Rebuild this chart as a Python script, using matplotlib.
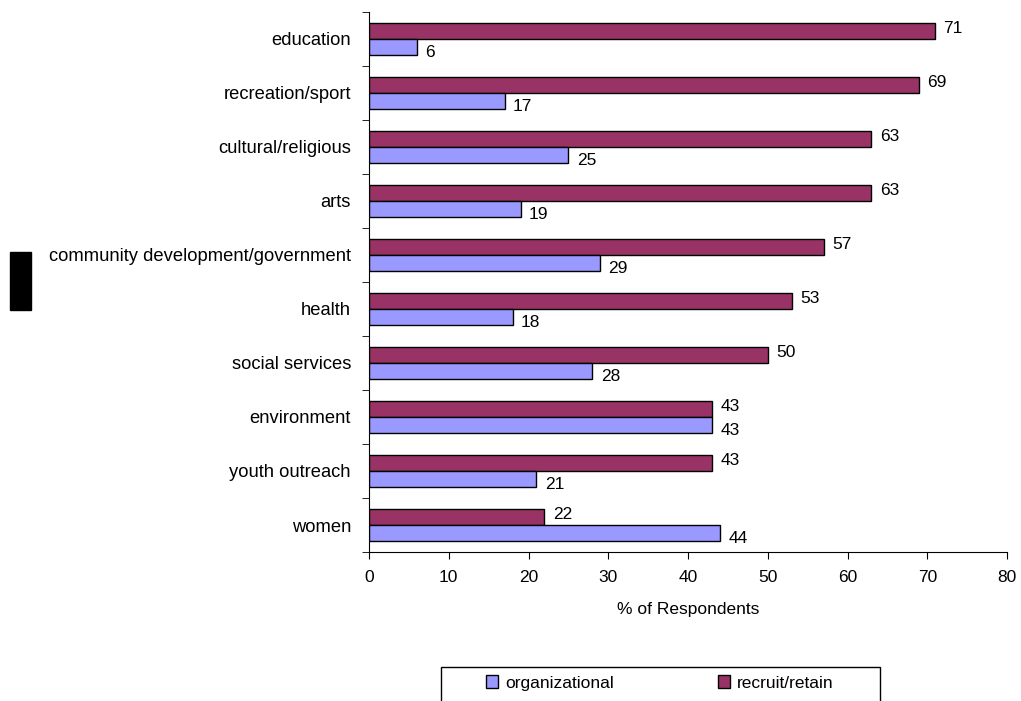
import matplotlib
matplotlib.use("Agg")
import matplotlib.pyplot as plt
import numpy as np

plt.rcParams['font.family'] = ['Liberation Sans', 'DejaVu Sans']

categories = ["education", "recreation/sport", "cultural/religious", "arts",
              "community development/government", "health", "social services",
              "environment", "youth outreach", "women"]
recruit_retain = [71, 69, 63, 63, 57, 53, 50, 43, 43, 22]
organizational = [6, 17, 25, 19, 29, 18, 28, 43, 21, 44]

c_rec = "#993366"
c_org = "#9999FF"
fs = 12.5

fig = plt.figure(figsize=(10.21, 7.01), dpi=100)
ax = fig.add_axes([369/1021, 1 - 552/701, (1007 - 369)/1021, (552 - 12)/701])

n = len(categories)
y = np.arange(n)[::-1].astype(float)
h = 0.3
ax.barh(y + h/2, recruit_retain, height=h, color=c_rec, edgecolor="black", linewidth=1.0, label="recruit/retain")
ax.barh(y - h/2, organizational, height=h, color=c_org, edgecolor="black", linewidth=1.0, label="organizational")

for yi, v in zip(y, recruit_retain):
    ax.annotate(str(v), (v, yi + h/2), xytext=(6, 2), textcoords="offset points",
                va="center", ha="left", fontsize=fs)
for yi, v in zip(y, organizational):
    ax.annotate(str(v), (v, yi - h/2), xytext=(6, -4), textcoords="offset points",
                va="center", ha="left", fontsize=fs)

ax.set_xlim(0, 80)
ax.set_ylim(-0.5, n - 0.5)
ax.set_xticks(np.arange(0, 81, 10))
ax.tick_params(axis="x", labelsize=fs, direction="out", length=5, pad=8)
ax.set_yticks(y)
ax.set_yticklabels(categories, fontsize=13.2)
ax.tick_params(axis="y", length=0, pad=13)
ax.set_yticks(np.arange(-0.5, n, 1.0), minor=True)
ax.tick_params(axis="y", which="minor", length=5, direction="out")
ax.spines["top"].set_visible(False)
ax.spines["right"].set_visible(False)
ax.set_xlabel("% of Respondents", fontsize=fs, labelpad=12)

# legend box
fig.patches.append(plt.Rectangle((441/1021, 1 - 705/701), (880 - 441)/1021, 38/701,
                                 transform=fig.transFigure, facecolor="white",
                                 edgecolor="black", linewidth=1.0, clip_on=False))
handles, labels = ax.get_legend_handles_labels()
leg = fig.legend(handles[::-1], labels[::-1], loc="center left",
                 bbox_to_anchor=(486/1021, 1 - 683/701),
                 ncol=2, frameon=False, fontsize=fs, handlelength=0.7, handleheight=0.7,
                 borderaxespad=0, borderpad=0, handletextpad=0.4, columnspacing=6.0)

fig.patches.append(plt.Rectangle((10/1021, 1 - 310/701), 21/1021, 58/701,
                                 transform=fig.transFigure, color="black"))

fig.savefig("out.png", dpi=100)
